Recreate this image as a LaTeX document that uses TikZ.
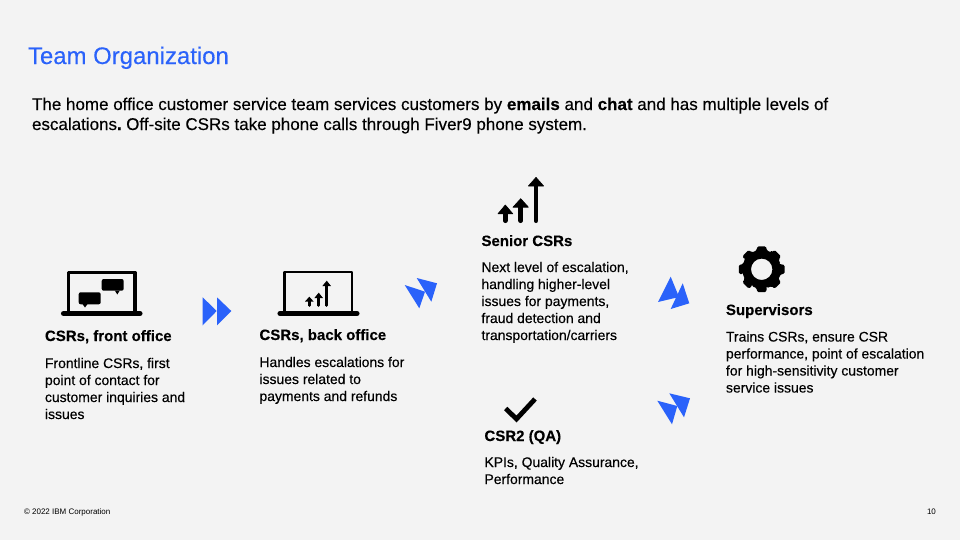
\documentclass[tikz,border=0pt]{standalone}
\usepackage{fontspec}
\setmainfont[RawFeature={embolden=0.3}]{Liberation Sans}
\newfontfamily\plainfont{Liberation Sans}
\definecolor{bg}{HTML}{F3F3F3}
\definecolor{ibmblue}{HTML}{2A62FA}
\tikzset{
  x=0.75pt,y=-0.75pt,
  txt/.style={anchor=base west,inner sep=0pt,outer sep=0pt,text=black},
  title/.style={txt,text=ibmblue,font=\fontsize{17.95}{20}\selectfont},
  lead/.style={txt,font=\fontsize{12.75}{15}\selectfont},
  head/.style={txt,font=\fontsize{11.25}{13}\selectfont\bfseries},
  body/.style={txt,font=\fontsize{10.45}{12.6}\selectfont},
  foot/.style={txt,font=\plainfont\fontsize{6}{8}\selectfont},
  chev/.style={fill=ibmblue,draw=none},
  arrowhd/.style={fill=black,draw=black,line width=0.5pt,line join=round},
}
\begin{document}
\begin{tikzpicture}
\useasboundingbox (0,0) rectangle (960,540);
\fill[bg] (0,0) rectangle (960,540);

\node[title] (title) at (28,64) {Team Organization};
\node[lead] (l1) at (32,110) {The home office customer service team services customers by \textbf{emails} and \textbf{chat} and has multiple levels of};
\node[lead] (l2) at (32,130) {escalations\textbf{.}\hspace{-1.4pt} Off-site CSRs take phone calls through Fiver9 phone system.};

% laptop 1
\draw[black,line width=2.6pt,line join=round] (68.5,312) -- (68.5,272.5) -- (135,272.5) -- (135,312);
\draw[black,line width=3.8pt,line cap=round] (63.5,313.5) -- (140,313.5);
\fill[black,rounded corners=1.5] (78.7,292.3) rectangle (100.7,304.3);
\fill[black] (82.5,304) -- (87.5,304) -- (85,307.5) -- cycle;
\fill[black,rounded corners=1.5] (101.7,279) rectangle (123.7,290.7);
\fill[black] (114.8,290.5) -- (119.8,290.5) -- (117.3,294.5) -- cycle;

% laptop 2
\draw[black,line width=2.2pt,line join=round] (284.7,312) -- (284.7,272) -- (352,272) -- (352,312);
\draw[black,line width=3.8pt,line cap=round] (280,313.5) -- (357,313.5);
\fill[black] (305,301.5) -- (309.3,296.7) -- (313.6,301.5) -- cycle;
\draw[black,line width=2.2pt,line cap=round] (309.3,299) -- (309.3,305.5);
\fill[black] (314.4,298) -- (318.7,292.7) -- (323,298) -- cycle;
\draw[black,line width=2.2pt,line cap=round] (318.7,295) -- (318.7,305.5);
\fill[black] (322.4,286) -- (326.7,280.7) -- (331,286) -- cycle;
\draw[black,line width=2.2pt,line cap=round] (326.7,284) -- (326.7,305.5);

% senior icon
\draw[arrowhd] (498,213.8) -- (505.3,205) -- (512.8,213.8) -- cycle;
\draw[black,line width=3.5pt,line cap=round] (505.3,210) -- (505.3,220.7);
\draw[arrowhd] (513,207.2) -- (520.7,198.7) -- (528.4,207.2) -- cycle;
\draw[black,line width=3.5pt,line cap=round] (520.7,204) -- (520.7,220.7);
\draw[arrowhd] (528.4,186) -- (536,177.4) -- (543.6,186) -- cycle;
\draw[black,line width=3.5pt,line cap=round] (536,184) -- (536,220.7);

% gear
\begin{scope}[shift={(761.7,269.3)}]
  \fill[black,even odd rule,rounded corners=1]
    (-16:19)
    \foreach \a in {0,45,...,315} {
      -- (\a-15:19.5) -- (\a-11:23.3) -- (\a+11:23.3) -- (\a+15:19.5) -- (\a+30:19.5)
    } -- cycle
    (0,0) circle (10.7);
\end{scope}

% check
\draw[black,line width=3.6pt] (505.7,408.5) -- (516.5,419) -- (535,399);

% chevrons
\fill[chev] (202.7,297.3) -- (202.7,325.3) -- (216.7,311) -- cycle;
\fill[chev] (217,297.3) -- (217,325.3) -- (231.3,311) -- cycle;
\fill[chev] (404.7,285) -- (425,291.7) -- (419.3,308.3) -- cycle;
\fill[chev] (416.7,278) -- (437,283.3) -- (431.3,301.7) -- cycle;
\fill[chev] (670.7,276.7) -- (679,297) -- (658,302) -- cycle;
\fill[chev] (682.7,283.3) -- (689.3,303.3) -- (670.7,309) -- cycle;
\fill[chev] (657.3,400.7) -- (677.3,406) -- (672,424.3) -- cycle;
\fill[chev] (669.3,393.3) -- (690,398.3) -- (684,417.3) -- cycle;

% texts
\node[head] (h1) at (45,341) {CSRs, front office};
\node[body] (b1a) at (45,368) {Frontline CSRs, first};
\node[body] (b1b) at (45,385) {point of contact for};
\node[body] (b1c) at (45,402) {customer inquiries and};
\node[body] (b1d) at (45,419) {issues};

\node[head] (h2) at (259.5,340) {CSRs, back office};
\node[body] (b2a) at (259.5,367) {Handles escalations for};
\node[body] (b2b) at (259.5,384) {issues related to};
\node[body] (b2c) at (259.5,401) {payments and refunds};

\node[head] (h3) at (481.5,246) {Senior CSRs};
\node[body] (b3a) at (481.5,272) {Next level of escalation,};
\node[body] (b3b) at (481.5,289) {handling higher-level};
\node[body] (b3c) at (481.5,306) {issues for payments,};
\node[body] (b3d) at (481.5,323) {fraud detection and};
\node[body] (b3e) at (481.5,340) {transportation/carriers};

\node[head] (h4) at (726,315) {Supervisors};
\node[body] (b4a) at (726,341.5) {Trains CSRs, ensure CSR};
\node[body] (b4b) at (726,358.5) {performance, point of escalation};
\node[body] (b4c) at (726,375.5) {for high-sensitivity customer};
\node[body] (b4d) at (726,392.5) {service issues};

\node[head] (h5) at (484.5,441) {CSR2 (QA)};
\node[body] (b5a) at (484.5,467) {KPIs, Quality Assurance,};
\node[body] (b5b) at (484.5,484) {Performance};

\node[foot] (f1) at (24,514) {© 2022 IBM Corporation};
\node[foot] (f2) at (927,514) {10};
\end{tikzpicture}
\end{document}
